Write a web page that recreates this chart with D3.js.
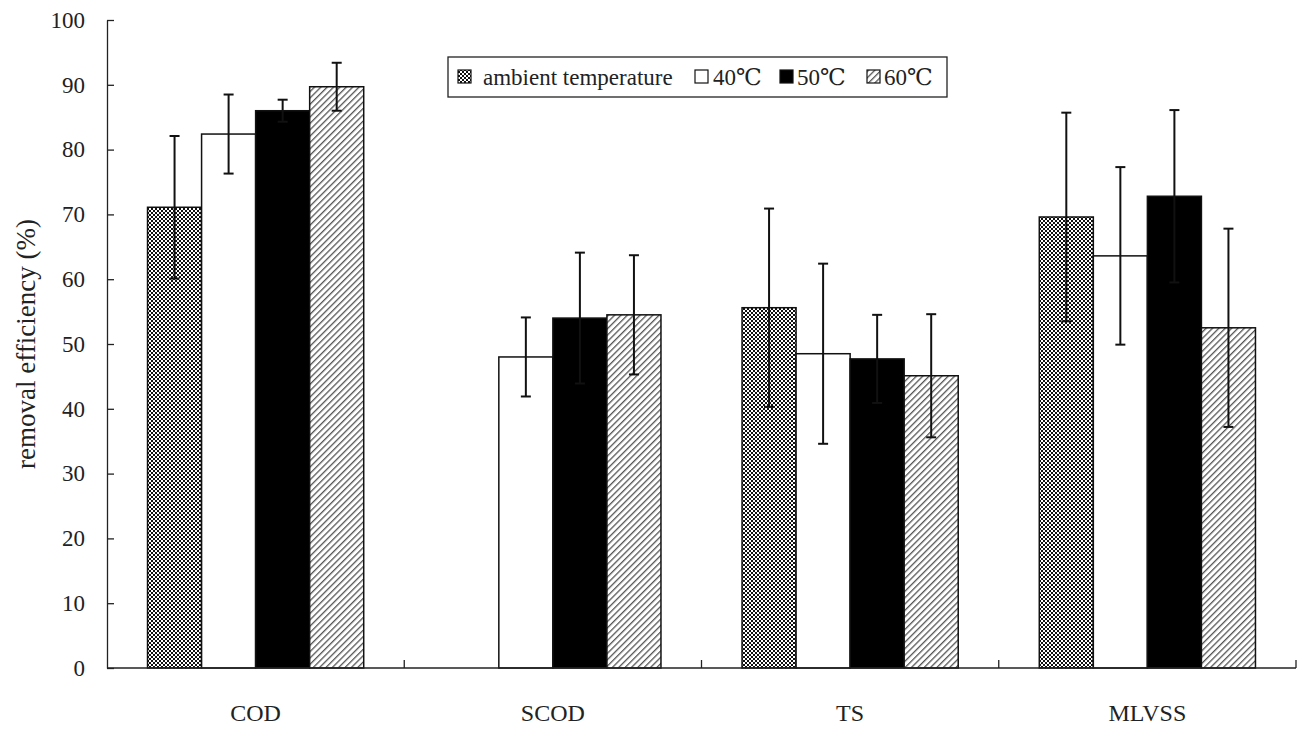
<!DOCTYPE html>
<html>
<head>
<meta charset="utf-8">
<script src="https://cdn.jsdelivr.net/npm/d3@7"></script>
<style>
  body { margin: 0; background: #fff; }
  svg text { font-family: "Liberation Serif", "DejaVu Serif", serif !important; fill: #222; }
</style>
</head>
<body>
<div class="plot"></div>
<script>
// categories and series
const categories = ["COD", "SCOD", "TS", "MLVSS"];
const seriesNames = ["ambient temperature", "40\u2103", "50\u2103", "60\u2103"];

// mean removal efficiency (%) per series, in category order (null = no bar)
const ambient = [71.1, null, 55.6, 69.6];
const t40 = [82.4, 48.0, 48.5, 63.6];
const t50 = [86.0, 54.0, 47.7, 72.8];
const t60 = [89.7, 54.5, 45.1, 52.5];

// error (+/-)
const ambientErr = [11.0, null, 15.3, 16.1];
const t40Err = [6.1, 6.1, 13.9, 13.7];
const t50Err = [1.7, 10.1, 6.8, 13.3];
const t60Err = [3.7, 9.2, 9.5, 15.3];

const yTicks = [0, 10, 20, 30, 40, 50, 60, 70, 80, 90, 100];

const serif = '"Liberation Serif", "DejaVu Serif", serif';

document.addEventListener('DOMContentLoaded', () => {

  const width = 1300, height = 729;
  const margin = {top: 20, left: 107, right: 4, bottom: 61};
  const plotWidth = width - margin.left - margin.right;
  const plotHeight = height - margin.top - margin.bottom;

  const svg = d3.select('.plot').append('svg')
    .attr('width', width).attr('height', height);

  // patterns
  const defs = svg.append('defs');
  const checker = defs.append('pattern')
    .attr('id', 'checker').attr('patternUnits', 'userSpaceOnUse')
    .attr('width', 4).attr('height', 4);
  checker.append('rect').attr('width', 4).attr('height', 4).attr('fill', '#fff');
  checker.append('rect').attr('width', 2).attr('height', 2).attr('fill', '#111');
  checker.append('rect').attr('x', 2).attr('y', 2).attr('width', 2).attr('height', 2).attr('fill', '#111');

  const hatch = defs.append('pattern')
    .attr('id', 'hatch').attr('patternUnits', 'userSpaceOnUse')
    .attr('width', 4.5).attr('height', 4.5)
    .attr('patternTransform', 'rotate(45)');
  hatch.append('rect').attr('width', 4.5).attr('height', 4.5).attr('fill', '#fff');
  hatch.append('line').attr('x1', 0).attr('y1', 0).attr('x2', 0).attr('y2', 4.5)
    .attr('stroke', '#555').attr('stroke-width', 2.6);

  const fills = ['url(#checker)', '#fff', '#000', 'url(#hatch)'];

  const values = [ambient, t40, t50, t60];
  const errors = [ambientErr, t40Err, t50Err, t60Err];

  const x0 = d3.scaleBand().domain(categories).range([0, plotWidth]).padding(0);
  const x1 = d3.scaleBand().domain(d3.range(seriesNames.length))
    .range([0, x0.bandwidth()]).paddingInner(0).paddingOuter(0.75);
  const y = d3.scaleLinear().domain([0, 100]).range([plotHeight, 0]);

  const g = svg.append('g').attr('transform', `translate(${margin.left},${margin.top})`);

  // bars
  const rows = [];
  categories.forEach((c, ci) => {
    values.forEach((s, si) => {
      if (s[ci] !== null) rows.push({cat: c, s: si, v: s[ci], e: errors[si][ci]});
    });
  });

  g.selectAll('.bar').data(rows).enter().append('rect')
    .attr('class', 'bar')
    .attr('x', d => x0(d.cat) + x1(d.s))
    .attr('y', d => y(d.v))
    .attr('width', x1.bandwidth())
    .attr('height', d => plotHeight - y(d.v))
    .attr('fill', d => fills[d.s])
    .attr('stroke', '#111').attr('stroke-width', 1.5);

  // error bars
  const eb = g.selectAll('.err').data(rows).enter().append('g').attr('class', 'err')
    .attr('stroke', '#111').attr('stroke-width', 2);
  const cx = d => x0(d.cat) + x1(d.s) + x1.bandwidth() / 2;
  eb.append('line')
    .attr('x1', cx).attr('x2', cx)
    .attr('y1', d => y(d.v + d.e)).attr('y2', d => y(d.v - d.e));
  eb.append('line')
    .attr('x1', d => cx(d) - 5).attr('x2', d => cx(d) + 5)
    .attr('y1', d => y(d.v + d.e)).attr('y2', d => y(d.v + d.e));
  eb.append('line')
    .attr('x1', d => cx(d) - 5).attr('x2', d => cx(d) + 5)
    .attr('y1', d => y(d.v - d.e)).attr('y2', d => y(d.v - d.e));

  // y axis
  const yAxis = g.append('g')
    .call(d3.axisRight(y).tickValues(yTicks).tickSize(7).tickSizeOuter(0).tickFormat(d3.format('d')))
    .attr('font-family', serif);
  yAxis.select('.domain').attr('stroke', '#222').attr('stroke-width', 1.3);
  yAxis.selectAll('.tick line').attr('stroke', '#222').attr('stroke-width', 1.3);
  yAxis.selectAll('.tick text')
    .attr('x', -22).attr('text-anchor', 'end')
    .style('font-family', serif)
    .attr('font-size', 23);

  // x axis: baseline + ticks between categories
  const xAxis = g.append('g').attr('transform', `translate(0,${plotHeight})`);
  xAxis.append('line').attr('x1', 0).attr('x2', plotWidth)
    .attr('stroke', '#222').attr('stroke-width', 1.5);
  const sepTicks = categories.map(c => x0(c) + x0.bandwidth());
  xAxis.selectAll('.sep').data(sepTicks).enter().append('line')
    .attr('x1', d => d).attr('x2', d => d).attr('y1', 0).attr('y2', -8)
    .attr('stroke', '#222').attr('stroke-width', 1.3);
  xAxis.selectAll('.cat').data(categories).enter().append('text')
    .attr('x', d => x0(d) + x0.bandwidth() / 2)
    .attr('y', 53)
    .attr('text-anchor', 'middle').attr('font-size', 24)
    .style('font-family', serif)
    .text(d => d);

  // y label
  svg.append('text')
    .attr('transform', 'rotate(-90)')
    .attr('x', -(margin.top + plotHeight / 2))
    .attr('y', 35)
    .attr('text-anchor', 'middle').attr('font-size', 27)
    .style('font-family', serif)
    .text('removal efficiency (%)');

  // legend
  const legend = svg.append('g').attr('transform', 'translate(448,57)');
  legend.append('rect').attr('width', 499).attr('height', 40)
    .attr('fill', '#fff').attr('stroke', '#222').attr('stroke-width', 1.3);
  const swatchX = [10, 247, 332, 419];
  const labelX = [35, 265, 349, 436];
  seriesNames.forEach((n, i) => {
    legend.append('rect')
      .attr('x', swatchX[i]).attr('y', 13).attr('width', 13).attr('height', 13)
      .attr('fill', fills[i]).attr('stroke', '#111').attr('stroke-width', 1.2);
    legend.append('text')
      .attr('x', labelX[i]).attr('y', 28)
      .attr('font-size', 23)
      .style('font-family', serif)
      .text(n);
  });
});
</script>
</body>
</html>
